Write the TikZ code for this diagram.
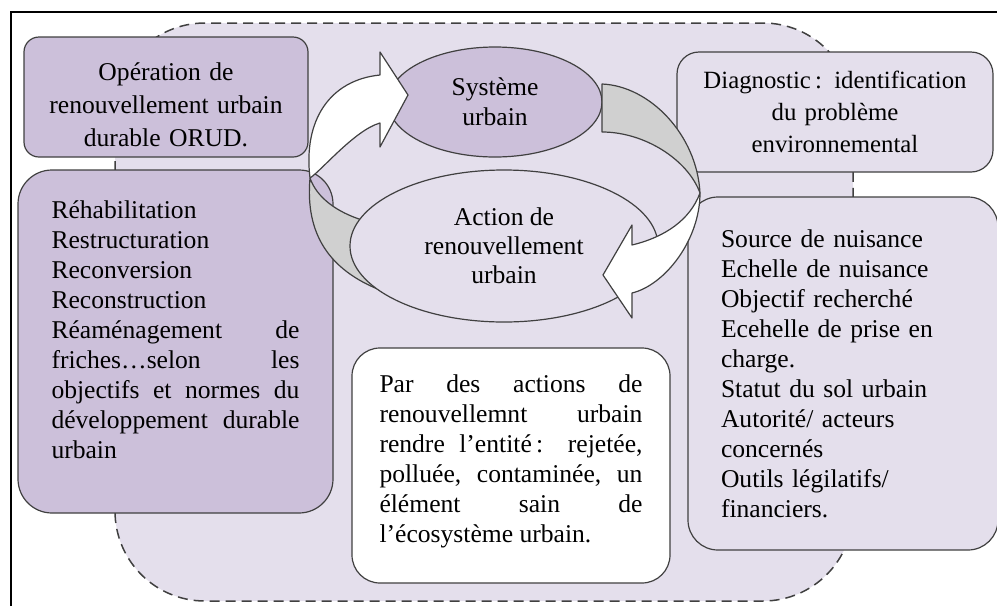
\documentclass[tikz,border=0pt]{standalone}
\usepackage{fontspec}
\setmainfont{Liberation Serif}
\usepackage{tikz}
\usetikzlibrary{shapes,positioning}

\definecolor{lilac}{HTML}{CCC0DA}
\definecolor{lavender}{HTML}{E4DFEC}
\definecolor{ribbon}{HTML}{D0D0D0}
\definecolor{rim}{gray}{0.25}

\tikzstyle{box} = [rectangle, draw=rim, line width=0.6pt, outer sep=0pt,
    font=\fontsize{12.8}{15}\selectfont]
\tikzstyle{darkbox} = [box, fill=lilac]
\tikzstyle{lightbox} = [box, fill=lavender]
\tikzstyle{loopnode} = [ellipse, draw=rim, line width=0.6pt, outer sep=0pt, align=center,
    font=\fontsize{12.8}{15}\selectfont]
\tikzstyle{twist} = [draw=rim, line width=0.6pt, line join=round]

\begin{document}
\begin{tikzpicture}[x=0.5pt, y=-0.5pt]
      \useasboundingbox (0,0) rectangle (997,606);
      % Frame and dashed panel
      \draw [line width=1pt] (11,606) -- (11,12) -- (997,12);
      \draw [fill=lavender, draw=rim, line width=0.75pt, dash pattern=on 5pt off 3pt,
          rounded corners=45pt] (115,23) rectangle (853,601);
      % Boxes
      \node [darkbox, minimum width=142pt, minimum height=60pt, rounded corners=7.5pt,
          text width=134pt, align=center, font=\fontsize{12.8}{16.5}\selectfont] (orud) at (166,97)
          {\rule{0pt}{17pt}Opération de\\ renouvellement urbain\\ durable ORUD.};
      \node [darkbox, minimum width=157.5pt, minimum height=171.5pt, rounded corners=17pt,
          text width=124pt, align=justify, below=6.5pt of orud, xshift=4.75pt] (reha)
          {Réhabilitation\\ Restructuration\\ Reconversion\\ Reconstruction\\
          Réaménagement de\linebreak friches…selon les\linebreak objectifs et normes du\linebreak
          développement durable\linebreak urbain\rule[-12pt]{0pt}{0pt}};
      \node [lightbox, minimum width=158pt, minimum height=60pt, rounded corners=11pt,
          text width=150pt, align=center, font=\fontsize{12.4}{16}\selectfont] (diag) at (835,112)
          {Diagnostic\,: identification\\ du problème\\ environnemental};
      \node [lightbox, minimum width=155pt, minimum height=176.5pt, rounded corners=15pt,
          text width=122pt, align=left, below=12.5pt of diag, xshift=4pt] (nuisance)
          {Source de nuisance\\ Echelle de nuisance\\ Objectif recherché\\ Ecehelle de prise en\\
          charge.\\ Statut du sol urbain\\ Autorité/ acteurs\\ concernés\\ Outils légilatifs/\\ financiers.};
      % Cycle
      \node [loopnode, fill=lilac, minimum width=107pt, minimum height=55pt] (sys) at (495,102)
          {Système\\ urbain};
      \filldraw [twist, fill=ribbon] (310,178) .. controls (305,235) and (330,270) .. (380,290)
          -- (395,287) -- (395,212) -- (362,220) .. controls (337,212) and (317,198) .. (310,178) -- cycle;
      \filldraw [twist, fill=white] (310,178) .. controls (303,120) and (330,80) .. (380,75)
          -- (380,52) -- (408,95) -- (380,147) -- (380,123)
          .. controls (355,130) and (322,170) .. (310,178) -- cycle;
      \node [loopnode, fill=lavender, minimum width=154pt, minimum height=76pt,
          font=\fontsize{12.8}{14.5}\selectfont, below=6.5pt of sys, xshift=4.5pt] (action)
          {Action de\\ renouvellement\\ urbain};
      \node [box, fill=white, minimum width=159pt, minimum height=117.5pt, rounded corners=14pt,
          text width=131.5pt, align=justify, below=13pt of action, xshift=3.5pt] (goal)
          {Par des actions de\linebreak renouvellemnt urbain\linebreak rendre l’entité\,: rejetée,\linebreak
          polluée, contaminée, un\linebreak élément sain de\linebreak l’écosystème urbain.\rule[-7.3pt]{0pt}{0pt}};
      \filldraw [twist, fill=ribbon] (602,84) .. controls (650,86) and (697,135) .. (700,193)
          .. controls (688,160) and (645,132) .. (602,132) -- cycle;
      \filldraw [twist, fill=white] (700,193) .. controls (700,240) and (665,285) .. (632,293)
          -- (632,318) -- (603,275) -- (632,225) -- (632,245)
          .. controls (665,237) and (690,220) .. (700,193) -- cycle;
\end{tikzpicture}
\end{document}
